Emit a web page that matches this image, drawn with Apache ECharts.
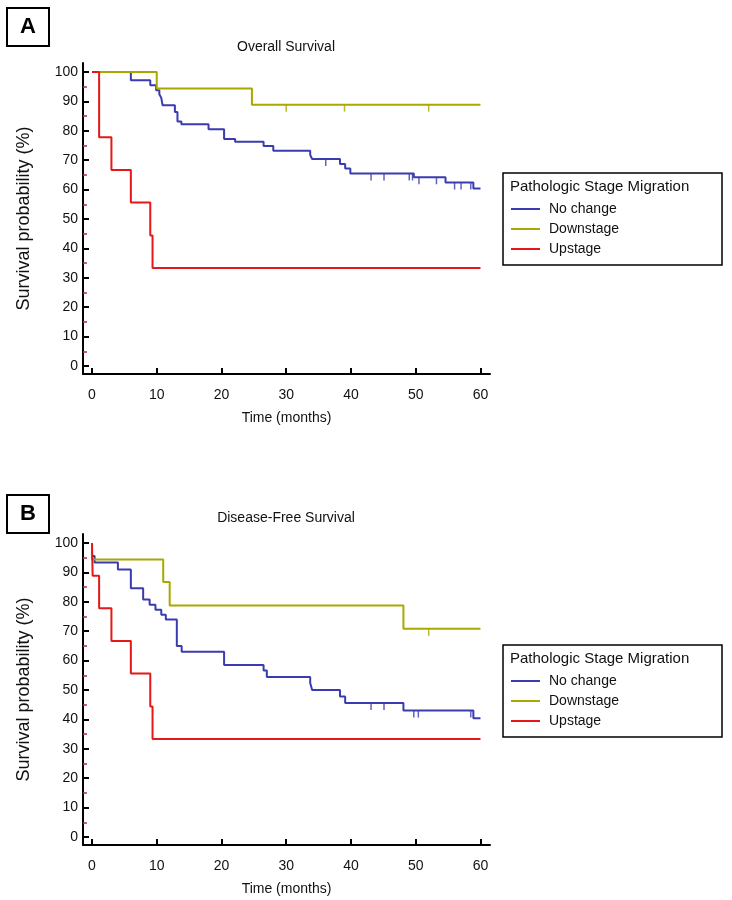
<!DOCTYPE html>
<html>
<head>
<meta charset="utf-8">
<script src="https://cdn.jsdelivr.net/npm/echarts@6/dist/echarts.min.js"></script>
<style>
html,body{margin:0;padding:0;background:#fff;}
#chart{width:732px;height:900px;}
</style>
</head>
<body>
<div id="chart"></div>
<script>
// ---------- data ----------
var groupNames = ['No change', 'Downstage', 'Upstage'];
var xTicks = [0, 10, 20, 30, 40, 50, 60];
var yTicks = [0, 10, 20, 30, 40, 50, 60, 70, 80, 90, 100];
var yMinorTicks = [5, 15, 25, 35, 45, 55, 65, 75, 85, 95];

// Panel A: Overall Survival  [time (months), survival %]
var osNoChange = [[0,100],[6.0,97.2],[9.0,95.5],[9.9,93.8],[10.4,92.4],[10.7,91.2],[10.9,88.7],[12.8,86.4],[13.2,83.2],[13.8,82.2],[18.0,80.5],[20.4,77.2],[22.1,76.3],[26.5,74.8],[28.0,73.2],[33.7,71.8],[34.0,70.4],[38.3,68.7],[39.1,67.2],[39.9,65.5],[49.7,64.2],[54.6,62.4],[58.9,60.4],[60,60.4]];
var osDownstage = [[0,100],[10.0,94.4],[24.7,88.9],[60,88.9]];
var osUpstage = [[0,100],[1.1,77.8],[3.0,66.7],[6.0,55.6],[9.0,44.4],[9.35,33.3],[60,33.3]];
var osNoChangeCensored = [[36.1,70.4],[43.1,65.5],[45.1,65.5],[49.0,65.5],[49.5,65.5],[50.5,64.2],[53.2,64.2],[56.0,62.4],[57.0,62.4],[58.5,62.4]];
var osDownstageCensored = [[30,88.9],[39,88.9],[52,88.9]];

// Panel B: Disease-Free Survival
var dfsNoChange = [[0,100],[0,95.6],[0.4,93.4],[4.0,91.0],[6.0,84.6],[7.9,80.8],[8.9,79.0],[9.8,77.3],[10.7,75.6],[11.4,74.0],[13.1,65.0],[13.85,63.0],[20.4,58.5],[26.5,56.6],[27.0,54.4],[33.7,52.4],[34.0,50.0],[38.3,47.8],[39.1,45.6],[48.1,43.0],[58.9,40.4],[60,40.4]];
var dfsDownstage = [[0,100],[0,94.4],[11.0,86.7],[12.0,78.7],[48.1,70.8],[60,70.8]];
var dfsUpstage = [[0,100],[0.1,88.9],[1.1,77.8],[3.0,66.7],[6.0,55.6],[9.0,44.4],[9.35,33.3],[60,33.3]];
var dfsNoChangeCensored = [[43.1,45.6],[45.1,45.6],[49.7,43.0],[50.4,43.0],[58.5,43.0]];
var dfsDownstageCensored = [[52,70.8]];

// ---------- styling ----------
var FONT = 'Liberation Sans, Arial, Helvetica, sans-serif';
var colors = { 'No change': '#3b3bb0', 'Downstage': '#a8a800', 'Upstage': '#e41818' };
var panelTop = [63, 534];
var gridH = 311, gridLeft = 83, gridW = 407;
var X_MIN = -1.39, X_MAX = 61.47, Y_MIN = -2.72, Y_MAX = 103.06;

var chart = echarts.init(document.getElementById('chart'), null, {renderer: 'canvas'});

var grids = [], xAxes = [], yAxes = [], series = [], legends = [], graphics = [];
var panels = [
  { title: 'Overall Survival', label: 'A', lines: [osNoChange, osDownstage, osUpstage], cens: [osNoChangeCensored, osDownstageCensored] },
  { title: 'Disease-Free Survival', label: 'B', lines: [dfsNoChange, dfsDownstage, dfsUpstage], cens: [dfsNoChangeCensored, dfsDownstageCensored] }
];

panels.forEach(function (p, i) {
  var top = panelTop[i];
  grids.push({ left: gridLeft, top: top, width: gridW, height: gridH, containLabel: false });
  xAxes.push({
    type: 'value', gridIndex: i, min: X_MIN, max: X_MAX, position: 'bottom',
    name: 'Time (months)', nameLocation: 'middle', nameGap: 37,
    nameTextStyle: { fontFamily: FONT, fontSize: 14, color: '#111' },
    axisLine: { show: true, onZero: false, lineStyle: { color: '#000', width: 2 } },
    axisTick: { show: true, inside: true, length: 6, lineStyle: { color: '#000', width: 2 }, customValues: xTicks },
    axisLabel: { show: true, margin: 14, fontFamily: FONT, fontSize: 14, color: '#111', customValues: xTicks },
    splitLine: { show: false }
  });
  yAxes.push({
    type: 'value', gridIndex: i, min: Y_MIN, max: Y_MAX, position: 'left',
    name: 'Survival probability (%)', nameLocation: 'middle', nameGap: 50,
    nameTextStyle: { fontFamily: FONT, fontSize: 18, color: '#111' },
    axisLine: { show: true, onZero: false, lineStyle: { color: '#000', width: 2 } },
    axisTick: { show: true, inside: true, length: 6, lineStyle: { color: '#000', width: 2 }, customValues: yTicks },
    axisLabel: { show: true, margin: 5, fontFamily: FONT, fontSize: 14, color: '#111', customValues: yTicks },
    splitLine: { show: false }
  });
  // minor ticks (dark red, short)
  yAxes.push({
    type: 'value', gridIndex: i, min: Y_MIN, max: Y_MAX, position: 'left', offset: 0,
    axisLine: { show: false, onZero: false },
    axisTick: { show: true, inside: true, length: 4, lineStyle: { color: '#b02840', width: 1.5 }, customValues: yMinorTicks },
    axisLabel: { show: false },
    splitLine: { show: false }
  });
  var yIdx = i * 2;
  p.lines.forEach(function (d, k) {
    series.push({
      name: groupNames[k], type: 'line', step: 'end', xAxisIndex: i, yAxisIndex: yIdx,
      data: d, showSymbol: false, symbol: 'none',
      lineStyle: { color: colors[groupNames[k]], width: 2 },
      itemStyle: { color: colors[groupNames[k]] },
      z: 3 + k, animation: false
    });
  });
  p.cens.forEach(function (d, k) {
    series.push({
      name: groupNames[k], type: 'scatter', xAxisIndex: i, yAxisIndex: yIdx,
      data: d, symbol: 'rect', symbolSize: [1.5, 7], symbolOffset: [0, '50%'],
      itemStyle: { color: colors[groupNames[k]] }, z: 2, animation: false
    });
  });
  var lt = i === 0 ? 173 : 645;
  legends.push({
    data: groupNames, orient: 'vertical', left: 511, top: lt + 29,
    icon: 'rect', itemWidth: 29, itemHeight: 2, itemGap: 6, padding: 0,
    textStyle: { fontFamily: FONT, fontSize: 14, color: '#111', lineHeight: 14, padding: [0, 0, 0, 4] }
  });
  graphics.push({
    type: 'rect', shape: { x: 503, y: lt, width: 219, height: 92 },
    style: { fill: 'none', stroke: '#000', lineWidth: 1.5 }, silent: true
  });
  graphics.push({
    type: 'text', x: 510, y: lt + 14,
    style: { text: 'Pathologic Stage Migration', font: '15px ' + FONT, fill: '#111', textVerticalAlign: 'middle', verticalAlign: 'middle' }
  });
  graphics.push({
    type: 'text', x: 286, y: top - 16,
    style: { text: p.title, font: '14px ' + FONT, fill: '#111', align: 'center', textAlign: 'center', verticalAlign: 'middle', textVerticalAlign: 'middle' }
  });
  var by = i === 0 ? 8 : 495;
  graphics.push({
    type: 'rect', shape: { x: 7, y: by, width: 42, height: 38 },
    style: { fill: '#fff', stroke: '#000', lineWidth: 2 }, silent: true
  });
  graphics.push({
    type: 'text', x: 28, y: by + 19,
    style: { text: p.label, font: 'bold 22px ' + FONT, fill: '#000', align: 'center', textAlign: 'center', verticalAlign: 'middle', textVerticalAlign: 'middle' }
  });
});

chart.setOption({
  backgroundColor: '#fff',
  animation: false,
  grid: grids,
  xAxis: xAxes,
  yAxis: yAxes,
  legend: legends,
  series: series,
  graphic: graphics
});
</script>
</body>
</html>
